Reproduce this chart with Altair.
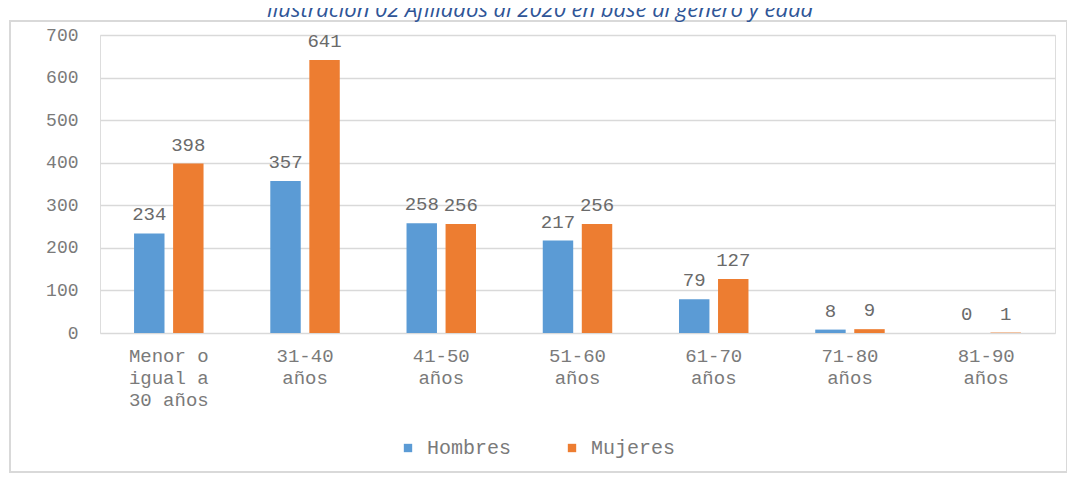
import altair as alt
import pandas as pd

categories = [
    "Menor o\nigual a\n30 años",
    "31-40\naños",
    "41-50\naños",
    "51-60\naños",
    "61-70\naños",
    "71-80\naños",
    "81-90\naños",
]
series = ["Hombres", "Mujeres"]
hombres = [234, 357, 258, 217, 79, 8, 0]
mujeres = [398, 641, 256, 256, 127, 9, 1]
colors = ["#5B9BD5", "#ED7D31"]
title_text = "Ilustración 02 Afiliados al 2020 en base al género y edad"

rows = []
for c, h, m in zip(categories, hombres, mujeres):
    rows.append({"cat": c, "serie": "Hombres", "valor": h})
    rows.append({"cat": c, "serie": "Mujeres", "valor": m})
df = pd.DataFrame(rows)

MONO = "Liberation Mono"
W, H = 955, 298

x = alt.X(
    "cat:N",
    sort=categories,
    scale=alt.Scale(paddingInner=0.49, paddingOuter=0.25),
    axis=alt.Axis(
        title=None,
        labelAngle=0,
        labelExpr="split(datum.label, '\\n')",
        labelFont=MONO,
        labelFontSize=19,
        labelColor="#7a7a7a",
        labelLineHeight=22,
        labelPadding=13,
        labelBaseline="top",
        ticks=False,
        domain=False,
        grid=False,
    ),
)
xo = alt.XOffset(
    "serie:N",
    sort=series,
    scale=alt.Scale(paddingInner=0.22, paddingOuter=0),
)
y = alt.Y(
    "valor:Q",
    scale=alt.Scale(domain=[0, 700], nice=False),
    axis=alt.Axis(
        title=None,
        values=[0, 100, 200, 300, 400, 500, 600, 700],
        labelFont=MONO,
        labelFontSize=18,
        labelColor="#7a7a7a",
        labelPadding=22,
        ticks=False,
        domain=False,
        grid=True,
        gridColor="#d9d9d9",
        gridWidth=1.5,
    ),
)
color = alt.Color(
    "serie:N",
    sort=series,
    scale=alt.Scale(domain=series, range=colors),
    legend=alt.Legend(
        title=None,
        orient="none",
        direction="horizontal",
        legendX=298,
        legendY=403,
        symbolType="square",
        symbolSize=70,
        symbolStrokeWidth=0,
        labelFont=MONO,
        labelFontSize=20,
        labelColor="#7a7a7a",
        labelOffset=9,
        columnPadding=50,
    ),
)

bars = alt.Chart(df).mark_bar().encode(x=x, xOffset=xo, y=y, color=color)

labels = alt.Chart(df).mark_text(
    font=MONO, fontSize=19, color="#6a6a6a", baseline="alphabetic", dy=-13
).encode(x=x, xOffset=xo, y=y, text="valor:Q")

one = pd.DataFrame({"t": [title_text]})
frame = alt.Chart(one).mark_rect(
    fill="white", fillOpacity=0, stroke="#d9d9d9", strokeWidth=2
).encode(
    x=alt.value(-90), x2=alt.value(967), y=alt.value(-14), y2=alt.value(437)
)
title = alt.Chart(one).mark_text(
    font="Open Sans", fontSize=22, fontStyle="italic", color="#2F5597",
    align="center", baseline="alphabetic"
).encode(x=alt.value(440), y=alt.value(-18), text="t:N")

chart = alt.layer(frame, bars, labels, title).properties(
    width=W,
    height=H,
    autosize=alt.AutoSizeParams(type="none"),
    padding={"left": 92, "top": 27, "right": 12, "bottom": 145},
).configure_view(stroke=None).configure(background="white")

chart.save("out.html", embed_options={"renderer": "svg", "actions": False})
